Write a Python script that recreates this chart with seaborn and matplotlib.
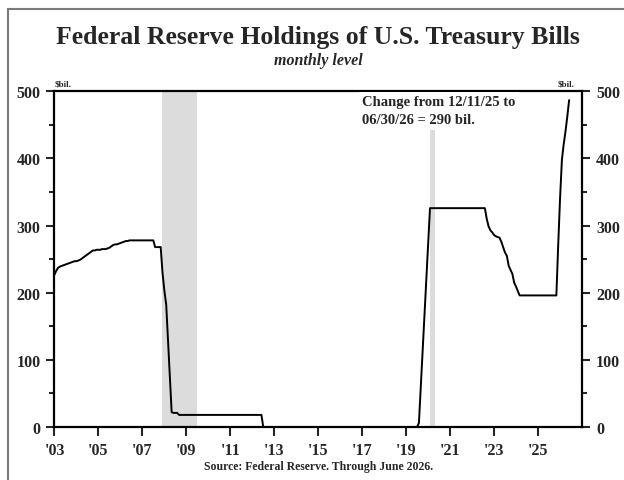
import numpy as np
import pandas as pd
import matplotlib
matplotlib.use("Agg")
import matplotlib.pyplot as plt
import matplotlib.dates as mdates
from matplotlib.ticker import MultipleLocator
from matplotlib.lines import Line2D
import seaborn as sns

# Fed holdings of T-bills, $bil., monthly from Jan 2003
bills_2003_2007 = [
    227, 233, 237, 239, 240, 241, 242, 243, 244, 245, 246, 247,
    247, 248, 249, 251, 253, 255, 257, 259, 261, 263, 263, 264,
    264, 264, 265, 265, 265, 266, 267, 269, 271, 272, 272, 273,
    274, 275, 276, 277, 277, 278, 278, 278, 278, 278, 278, 278,
    278, 278, 278, 278, 278, 278, 278, 268, 268, 268, 268, 230,
]
bills_2008_2012 = [
    203, 182, 130, 75, 22, 21, 21, 21, 18, 18, 18, 18,
    18, 18, 18, 18, 18, 18, 18, 18, 18, 18, 18, 18,
    18, 18, 18, 18, 18, 18, 18, 18, 18, 18, 18, 18,
    18, 18, 18, 18, 18, 18, 18, 18, 18, 18, 18, 18,
    18, 18, 18, 18, 18, 18, 0, 0, 0, 0, 0, 0,
]
bills_2013_2019 = [
    0, 0, 0, 0, 0, 0, 0, 0, 0, 0, 0, 0,
    0, 0, 0, 0, 0, 0, 0, 0, 0, 0, 0, 0,
    0, 0, 0, 0, 0, 0, 0, 0, 0, 0, 0, 0,
    0, 0, 0, 0, 0, 0, 0, 0, 0, 0, 0, 0,
    0, 0, 0, 0, 0, 0, 0, 0, 0, 0, 0, 0,
    0, 0, 0, 0, 0, 0, 0, 0, 0, 0, 0, 0,
    0, 0, 0, 0, 0, 0, 0, 6, 60, 113, 166, 220,
]
bills_2020_2026 = [
    273, 326, 326, 326, 326, 326, 326, 326, 326, 326, 326, 326,
    326, 326, 326, 326, 326, 326, 326, 326, 326, 326, 326, 326,
    326, 326, 326, 326, 326, 326, 326, 326, 310, 299, 293, 290,
    286, 284, 283, 282, 276, 268, 260, 255, 240, 234, 228, 215,
    209, 202, 196, 196, 196, 196, 196, 196, 196, 196, 196, 196,
    196, 196, 196, 196, 196, 196, 196, 196, 196, 196, 196, 270,
    340, 398, 420, 440, 462, 487,
]

rec_start = ["2007-12-01", "2020-02-01"]
rec_end = ["2009-06-30", "2020-04-30"]

tick_years = ["2003", "2005", "2007", "2009", "2011", "2013",
              "2015", "2017", "2019", "2021", "2023", "2025"]
tick_labels = ["'03", "'05", "'07", "'09", "'11", "'13",
               "'15", "'17", "'19", "'21", "'23", "'25"]

values = bills_2003_2007 + bills_2008_2012 + bills_2013_2019 + bills_2020_2026
df = pd.DataFrame({
    "date": pd.date_range("2003-01-01", periods=len(values), freq="MS"),
    "bills": values,
})

sns.set_style("ticks")
plt.rcParams["font.family"] = ["Liberation Serif", "DejaVu Serif"]
plt.rcParams["font.weight"] = "bold"

fig = plt.figure(figsize=(6.24, 4.81), dpi=100)
ax = fig.add_axes([0.0873, 0.1102, 0.8454, 0.6978])

for s, e in zip(rec_start, rec_end):
    ax.axvspan(pd.Timestamp(s), pd.Timestamp(e), color="#dcdcdc", lw=0, zorder=0)

sns.lineplot(data=df, x="date", y="bills", color="black", lw=1.4, ax=ax, zorder=4)

ax.set_xlim(pd.Timestamp("2003-01-01"), pd.Timestamp("2027-01-01"))
ax.set_ylim(0, 500)
ax.set_xlabel("")
ax.set_ylabel("")

ax.set_xticks([pd.Timestamp(y + "-01-01") for y in tick_years])
ax.set_xticklabels(tick_labels)
ax.yaxis.set_major_locator(MultipleLocator(100))
ax.yaxis.set_minor_locator(MultipleLocator(50))
ax.tick_params(axis="y", which="both", left=True, right=True,
               labelleft=True, labelright=True, direction="out")
ax.tick_params(axis="y", which="major", length=6, width=1.5, labelsize=11.5, pad=4)
ax.tick_params(axis="y", which="minor", length=3.5, width=1.5)
ax.tick_params(axis="x", which="major", length=6.5, width=1.5, labelsize=11.5, pad=4)
for lab in ax.get_xticklabels() + ax.get_yticklabels():
    lab.set_fontweight("bold")

for sp in ax.spines.values():
    sp.set_visible(True)
    sp.set_linewidth(1.6)
    sp.set_color("black")

ax.text(0.0, 1.012, "$bil.", transform=ax.transAxes, fontsize=6.5,
        fontweight="bold", ha="left", va="bottom")
ax.text(0.985, 1.012, "$bil.", transform=ax.transAxes, fontsize=6.5,
        fontweight="bold", ha="right", va="bottom")

ax.text(pd.Timestamp("2017-01-01"), 494, "Change from 12/11/25 to\n06/30/26 = 290 bil.",
        fontsize=10.5, fontweight="bold", ha="left", va="top", linespacing=1.45,
        zorder=3, bbox=dict(boxstyle="square,pad=0.25", fc="white", ec="none"))

fig.text(0.51, 0.921, "Federal Reserve Holdings of U.S. Treasury Bills",
         fontsize=18.5, fontweight="bold", ha="center", va="center")
fig.text(0.51, 0.874, "monthly level", fontsize=11.5, fontweight="bold",
         style="italic", ha="center", va="center")
fig.text(0.51, 0.03, "Source: Federal Reserve. Through June 2026.",
         fontsize=8.5, fontweight="bold", ha="center", va="center")

# outer frame of the original graphic
fig.add_artist(Line2D([8 / 624, 8 / 624], [0, 1 - 10 / 481], transform=fig.transFigure,
                      color="#7a7a7a", lw=1.5))
fig.add_artist(Line2D([8 / 624, 1], [1 - 10 / 481, 1 - 10 / 481], transform=fig.transFigure,
                      color="#7a7a7a", lw=1.5))

fig.savefig("out.png", dpi=100)
